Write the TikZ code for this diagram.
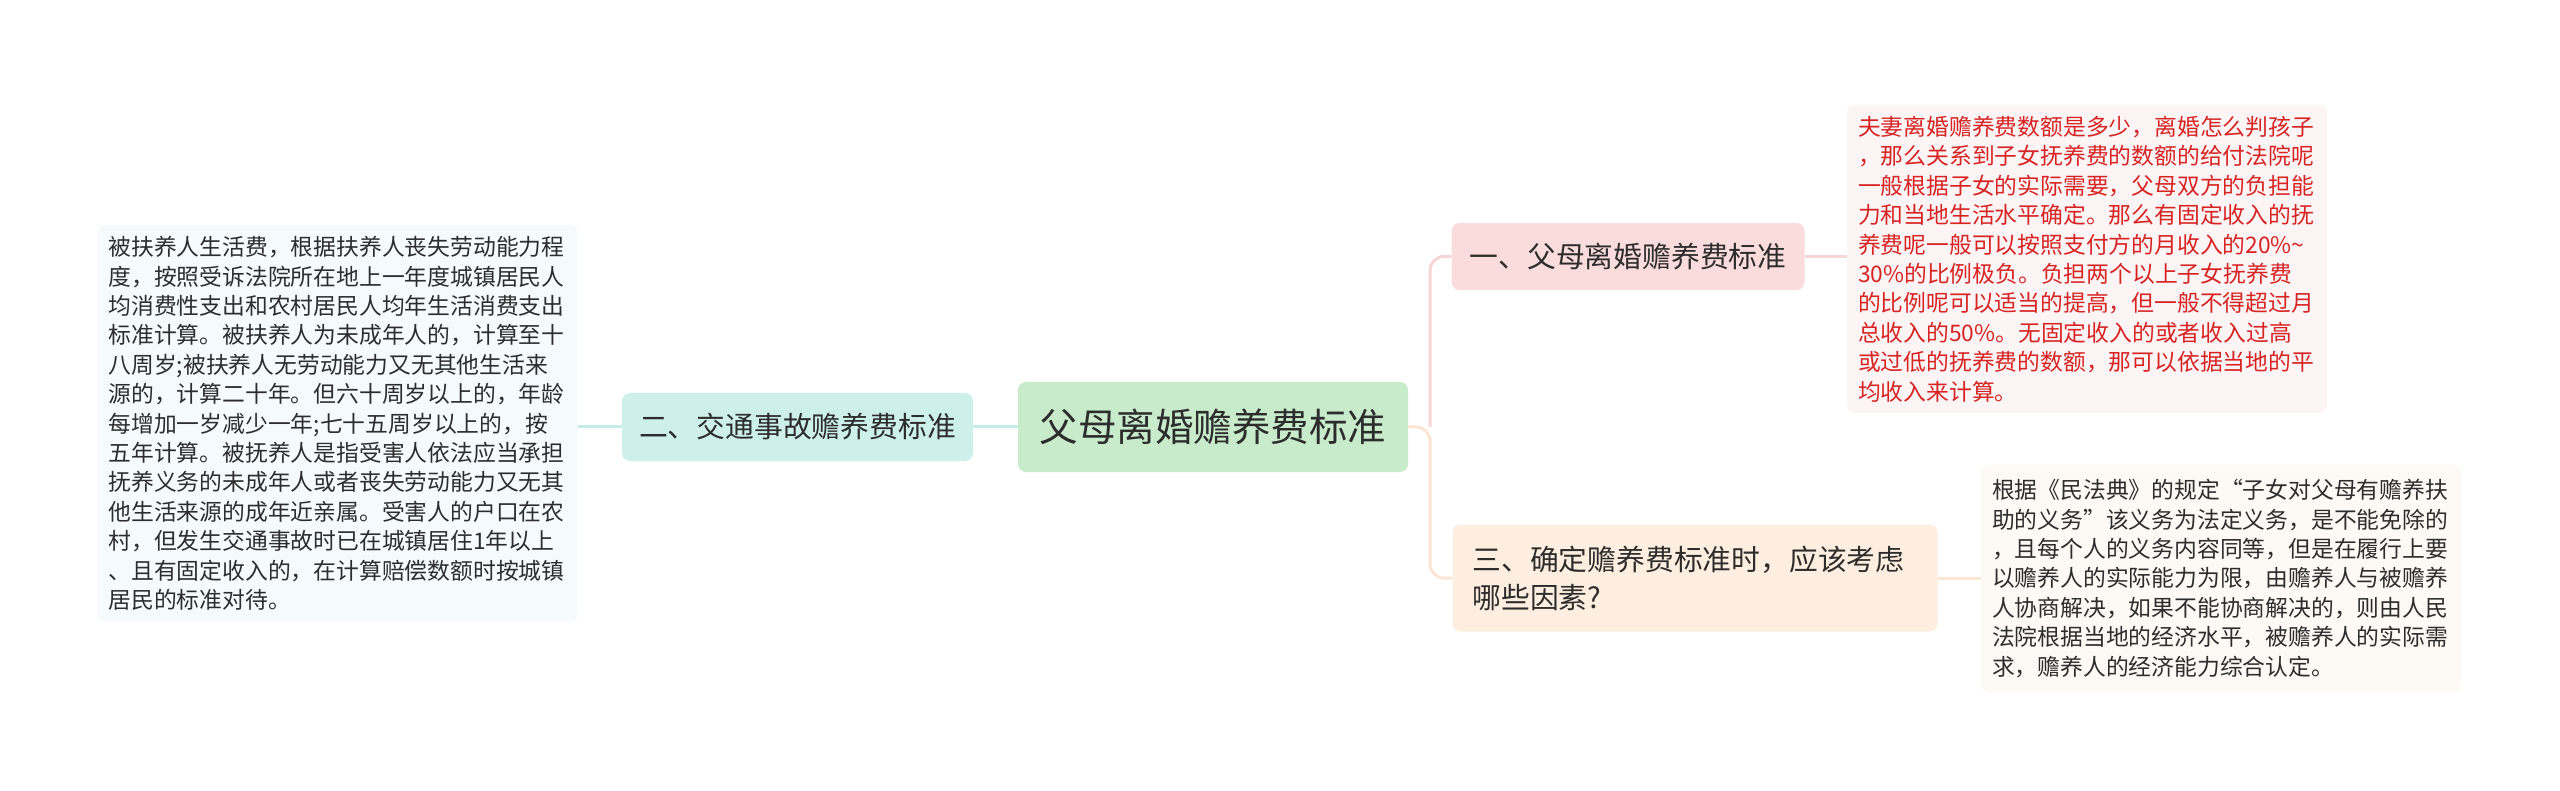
\documentclass[tikz,border=0pt]{standalone}
\usepackage{fontspec}
\setmainfont{Noto Sans CJK SC}

\definecolor{rootfill}{RGB}{200,236,203}
\definecolor{twofill}{RGB}{205,240,234}
\definecolor{twoleaf}{RGB}{245,251,251}
\definecolor{onefill}{RGB}{251,220,220}
\definecolor{oneleaf}{RGB}{253,245,245}
\definecolor{threefill}{RGB}{253,238,224}
\definecolor{threeleaf}{RGB}{253,250,245}
\definecolor{twoline}{RGB}{197,236,230}
\definecolor{oneline}{RGB}{247,213,213}
\definecolor{threeline}{RGB}{252,229,210}
\definecolor{textgray}{RGB}{45,45,45}
\definecolor{textred}{RGB}{214,36,36}

\begin{document}
\begin{tikzpicture}[x=1pt, y=-1pt,
  box/.style={rounded corners=8pt, inner sep=0pt, text=textgray},
  topic/.style={box, font=\fontsize{28.8}{38}\selectfont},
  leaf/.style={box, font=\fontsize{22.8}{29.4}\selectfont, align=left,
    text width=458pt, inner xsep=11pt},
  link/.style={line width=3pt}]
  % 画布
  \fill[white] (0,0) rectangle (2560,791);
  \useasboundingbox (0,0) rectangle (2560,791);

  % 中心主题
  \node[box, fill=rootfill, font=\fontsize{38.5}{46}\selectfont,
    minimum width=390pt, minimum height=90pt] (root) at (1213,427) {父母离婚赡养费标准};

  % 分支
  \node[topic, fill=twofill, minimum width=351pt, minimum height=68pt] (two) at (797.5,427) {二、交通事故赡养费标准};
  \node[topic, fill=onefill, minimum width=353pt, minimum height=67pt] (one) at (1628,256.5) {一、父母离婚赡养费标准};
  \node[topic, fill=threefill, align=left, text width=445pt, inner xsep=20pt,
    minimum height=107pt] (three) at (1695,578) {三、确定赡养费标准时，应该考虑\\哪些因素?};

  % 说明文字
  \node[leaf, fill=twoleaf, minimum height=397pt] (twotext) at (337.5,423.5) {被扶养人生活费，根据扶养人丧失劳动能力程\\
度，按照受诉法院所在地上一年度城镇居民人\\
均消费性支出和农村居民人均年生活消费支出\\
标准计算。被扶养人为未成年人的，计算至十\\
八周岁;被扶养人无劳动能力又无其他生活来\\
源的，计算二十年。但六十周岁以上的，年龄\\
每增加一岁减少一年;七十五周岁以上的，按\\
五年计算。被抚养人是指受害人依法应当承担\\
抚养义务的未成年人或者丧失劳动能力又无其\\
他生活来源的成年近亲属。受害人的户口在农\\
村，但发生交通事故时已在城镇居住1年以上\\
、且有固定收入的，在计算赔偿数额时按城镇\\
居民的标准对待。};
  \node[leaf, fill=oneleaf, text=textred, minimum height=308pt] (onetext) at (2087,259) {夫妻离婚赡养费数额是多少，离婚怎么判孩子\\
，那么关系到子女抚养费的数额的给付法院呢\\
一般根据子女的实际需要，父母双方的负担能\\
力和当地生活水平确定。那么有固定收入的抚\\
养费呢一般可以按照支付方的月收入的20\%{\char`\~}\\
30\%的比例极负。负担两个以上子女抚养费\\
的比例呢可以适当的提高，但一般不得超过月\\
总收入的50\%。无固定收入的或者收入过高\\
或过低的抚养费的数额，那可以依据当地的平\\
均收入来计算。};
  \node[leaf, fill=threeleaf, minimum height=227pt] (threetext) at (2221,578.5) {根据《民法典》的规定“子女对父母有赡养扶\\
助的义务”该义务为法定义务，是不能免除的\\
，且每个人的义务内容同等，但是在履行上要\\
以赡养人的实际能力为限，由赡养人与被赡养\\
人协商解决，如果不能协商解决的，则由人民\\
法院根据当地的经济水平，被赡养人的实际需\\
求，赡养人的经济能力综合认定。};

  % 连线
  \coordinate (hub) at (1430,427);
  \draw[link, oneline, rounded corners=14pt] (hub) |- (one.west);
  \draw[link, threeline, rounded corners=14pt] (root.east) -- (hub) |- (three.west);
  \draw[link, twoline] (root.west) -- (two.east);
  \draw[link, twoline] (two.west) -- (two.west -| twotext.east);
  \draw[link, oneline] (one.east) -- (one.east -| onetext.west);
  \draw[link, threeline] (three.east) -- (three.east -| threetext.west);
\end{tikzpicture}
\end{document}
